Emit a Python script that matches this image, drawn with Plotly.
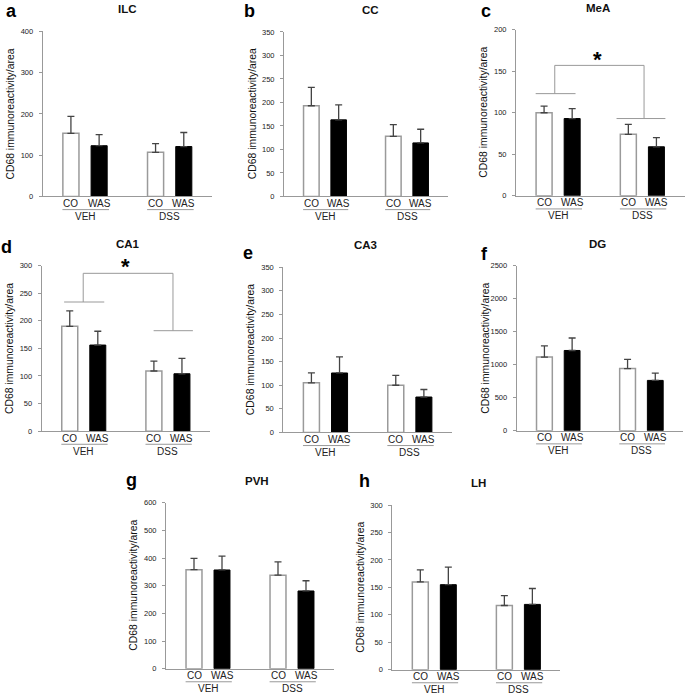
import plotly.graph_objects as go

W, H = 685, 700
FONT = "Liberation Sans, Arial, Helvetica, sans-serif"

# ---------------- data ----------------
regions = ["ILC", "CC", "MeA", "CA1", "CA3", "DG", "PVH", "LH"]
letters = ["a", "b", "c", "d", "e", "f", "g", "h"]
group_labels = ["CO", "WAS"]
treatment_labels = ["VEH", "DSS"]
y_title = "CD68 immunoreactivity/area"

# order in each list: CO-VEH, WAS-VEH, CO-DSS, WAS-DSS
ilc_mean = [153, 123, 107, 121]
ilc_sem = [41, 27, 21, 34]
cc_mean = [193, 163, 128, 114]
cc_sem = [39, 32, 25, 29]
mea_mean = [100, 93, 74, 59]
mea_sem = [8, 12, 12, 11]
ca1_mean = [190, 156, 109, 104]
ca1_sem = [28, 25, 18, 28]
ca3_mean = [105, 126, 100, 75]
ca3_sem = [21, 34, 21, 16]
dg_mean = [1115, 1215, 941, 762]
dg_sem = [170, 189, 140, 109]
pvh_mean = [358, 357, 338, 281]
pvh_sem = [41, 50, 48, 37]
lh_mean = [160, 155, 117, 119]
lh_sem = [22, 32, 18, 29]

y_max = [400, 350, 200, 300, 350, 2500, 600, 300]
y_step = [100, 50, 50, 50, 50, 500, 100, 50]

# significance brackets (panel index -> VEH level, DSS level, top level)
sig_levels = {2: (123, 93, 157), 3: (234, 182, 286)}

means = [ilc_mean, cc_mean, mea_mean, ca1_mean, ca3_mean, dg_mean, pvh_mean, lh_mean]
sems = [ilc_sem, cc_sem, mea_sem, ca1_sem, ca3_sem, dg_sem, pvh_sem, lh_sem]

# ---------------- layout geometry (pixels: left, right, top, bottom) ----------------
boxes = [
    (42.7, 212, 27.7, 195),
    (284, 448, 28.3, 195),
    (516, 684.5, 26, 194.3),
    (41.7, 210, 265, 432.7),
    (283.3, 452, 266.7, 434),
    (516.7, 683, 265, 432.3),
    (166, 334, 505.3, 673.3),
    (392.3, 560.4, 507.7, 674.3),
]
title_shift = [0, 4, -2, 2, -2, -2, 7, 2]
letter_pos = [(5, 14), (243, 14), (480, 14), (0, 253), (242, 259), (480, 260), (125, 489), (358, 490)]

x_pos = [0, 1, 3, 4]
bar_w = 0.57

fig = go.Figure()
annotations = []
shapes = []

for i in range(8):
    n = "" if i == 0 else str(i + 1)
    xa, ya = "x" + n, "y" + n
    l, r, t, b = boxes[i]
    m, s = means[i], sems[i]
    # CO bars (white)
    fig.add_trace(go.Bar(
        x=[x_pos[0], x_pos[2]], y=[m[0], m[2]], width=bar_w,
        marker=dict(color="white", line=dict(color="#9a9a9a", width=1.5)),
        error_y=dict(type="data", array=[s[0], s[2]], arrayminus=[0, 0], symmetric=False,
                     color="#444444", thickness=1.3, width=3.5),
        xaxis=xa, yaxis=ya, showlegend=False, hoverinfo="skip"))
    # WAS bars (black)
    fig.add_trace(go.Bar(
        x=[x_pos[1], x_pos[3]], y=[m[1], m[3]], width=bar_w,
        marker=dict(color="black", line=dict(color="black", width=1)),
        error_y=dict(type="data", array=[s[1], s[3]], arrayminus=[0, 0], symmetric=False,
                     color="#444444", thickness=1.3, width=3.5),
        xaxis=xa, yaxis=ya, showlegend=False, hoverinfo="skip"))

    fig.update_layout(**{
        ("xaxis" + n): dict(domain=[l / W, r / W], range=[-1, 5], anchor=ya,
                            showline=True, linecolor="#999999", linewidth=1,
                            showticklabels=False, ticks="", showgrid=False, zeroline=False),
        ("yaxis" + n): dict(domain=[1 - b / H, 1 - t / H], range=[0, y_max[i]], anchor=xa,
                            tickmode="linear", tick0=0, dtick=y_step[i],
                            showline=True, linecolor="#999999", linewidth=1,
                            ticks="outside", ticklen=3, tickcolor="#999999", tickwidth=1,
                            ticklabelstandoff=4,
                            tickfont=dict(size=7.5, color="#222222", family=FONT),
                            showgrid=False, zeroline=False),
    })

    hpx = b - t
    # CO / WAS labels
    for k, xp in enumerate(x_pos):
        annotations.append(dict(text=group_labels[k % 2], x=xp, xref=xa, y=0, yref=ya + " domain",
                                yshift=-7, yanchor="middle", xanchor="center", showarrow=False,
                                font=dict(size=10, color="#222222", family=FONT)))
    # underlines and treatment labels
    for g in range(2):
        x0, x1 = x_pos[2 * g], x_pos[2 * g + 1]
        shapes.append(dict(type="line", xref=xa, yref=ya + " domain",
                           x0=x0 - 0.3, x1=x1 + 0.35, y0=-13.3 / hpx, y1=-13.3 / hpx,
                           line=dict(color="#999999", width=1)))
        annotations.append(dict(text=treatment_labels[g], x=(x0 + x1) / 2, xref=xa, y=0,
                                yref=ya + " domain", yshift=-20, yanchor="middle",
                                xanchor="center", showarrow=False,
                                font=dict(size=10, color="#222222", family=FONT)))
    # y title
    annotations.append(dict(text=y_title, x=0, xref=xa + " domain", xshift=-32, y=0.5,
                            yref=ya + " domain", textangle=-90, showarrow=False,
                            xanchor="center", yanchor="middle",
                            font=dict(size=10.4, color="#111111", family=FONT)))
    # panel title
    annotations.append(dict(text="<b>" + regions[i] + "</b>", x=0.5, xref=xa + " domain",
                            xshift=title_shift[i], y=1, yref=ya + " domain", yshift=22,
                            yanchor="middle", xanchor="center", showarrow=False,
                            font=dict(size=11.5, color="#111111", family=FONT)))
    # panel letter
    lx, lb = letter_pos[i]
    annotations.append(dict(text="<b>" + letters[i] + "</b>", x=lx / W, xref="paper",
                            y=1 - lb / H, yref="paper", yshift=-4, xanchor="left",
                            yanchor="bottom", showarrow=False, borderpad=0,
                            font=dict(size=18, color="black", family=FONT)))

    if i in sig_levels:
        veh_lv, dss_lv, top_lv = sig_levels[i]
        if i == 2:
            vx = (-0.3, 1.12, 0.38)
            dx = (2.58, 4.32, 3.56)
        else:
            vx = (-0.2, 1.23, 0.48)
            dx = (2.99, 4.39, 3.68)
        ln = dict(color="#999999", width=1)
        shapes += [
            dict(type="line", xref=xa, yref=ya, x0=vx[0], x1=vx[1], y0=veh_lv, y1=veh_lv, line=ln),
            dict(type="line", xref=xa, yref=ya, x0=vx[2], x1=vx[2], y0=veh_lv, y1=top_lv, line=ln),
            dict(type="line", xref=xa, yref=ya, x0=vx[2], x1=dx[2], y0=top_lv, y1=top_lv, line=ln),
            dict(type="line", xref=xa, yref=ya, x0=dx[2], x1=dx[2], y0=top_lv, y1=dss_lv, line=ln),
            dict(type="line", xref=xa, yref=ya, x0=dx[0], x1=dx[1], y0=dss_lv, y1=dss_lv, line=ln),
        ]
        star_x = 1.9 if i == 2 else 2.0
        star_y = 165.5 if i == 2 else 300
        annotations.append(dict(text="<b>*</b>", x=star_x, xref=xa, y=star_y, yref=ya,
                                yshift=-1, yanchor="middle", xanchor="center", showarrow=False,
                                font=dict(size=22, color="black", family=FONT)))

fig.update_layout(
    width=W, height=H, margin=dict(l=0, r=0, t=0, b=0),
    paper_bgcolor="white", plot_bgcolor="white",
    barmode="overlay", showlegend=False,
    annotations=annotations, shapes=shapes,
    font=dict(family=FONT),
)

fig.write_html("out.html", config={"displayModeBar": False},
               post_script="document.body.style.margin='0';document.body.style.padding='0';")
